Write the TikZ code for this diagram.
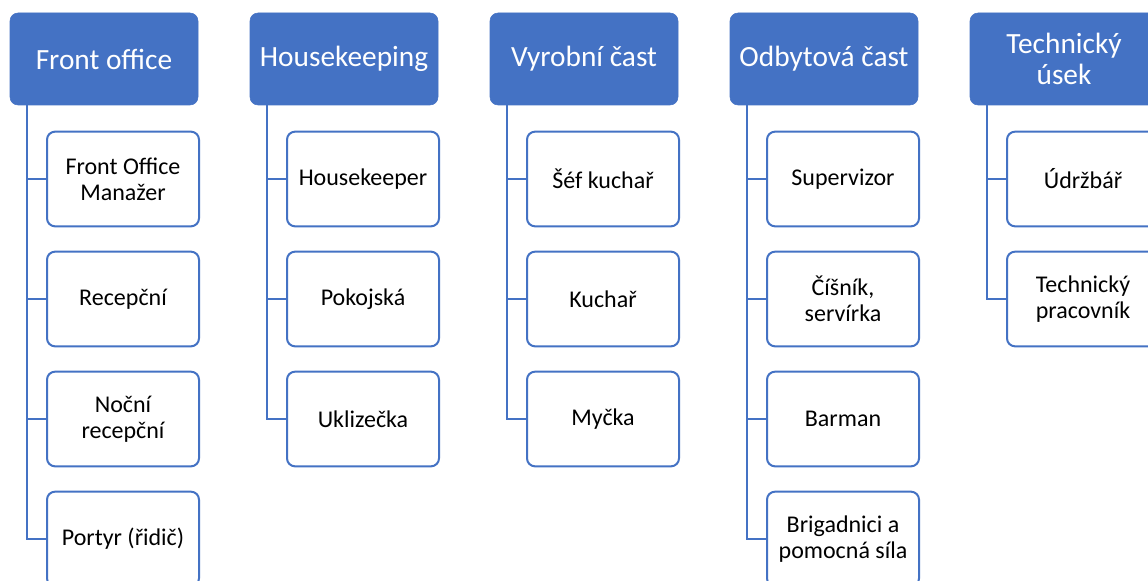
\documentclass[tikz,border=0pt]{standalone}
\usepackage{fontspec}
\setmainfont{Carlito}
\definecolor{deptblue}{HTML}{4472C4}

\begin{document}
\begin{tikzpicture}[x=0.75pt, y=-0.75pt,
    head/.style={fill=deptblue, draw=deptblue, rounded corners=6pt, text=white,
        minimum width=141pt, minimum height=69pt, inner sep=0pt, align=center,
        font=\fontsize{22}{23.5}\selectfont},
    staff/.style={fill=white, draw=deptblue, line width=1.5pt, rounded corners=6pt,
        minimum width=114pt, minimum height=71pt, inner sep=0pt, align=center,
        font=\fontsize{18}{19.5}\selectfont},
    link/.style={draw=deptblue, line width=1.5pt}]
    \clip (0,0) rectangle (1148,581);
    \fill[white] (0,0) rectangle (1148,581);

    % departments
    \node[head] (front_name) at (104,59) {Front office};
    \node[head] (house_name) at (344,59) {Housekeeping};
    \node[head] (kitchen_name) at (584,59) {Vyrobní čast};
    \node[head] (sales_name) at (824,59) {Odbytová čast};
    \node[head] (tech_name) at (1064,59) {Technický\\úsek};

    % staff
    \node[staff] (front_1) at (123,179) {Front Office\\Manažer};
    \node[staff] (front_2) at (123,299) {Recepční};
    \node[staff] (front_3) at (123,419) {Noční\\recepční};
    \node[staff] (front_4) at (123,539) {Portyr (řidič)};

    \node[staff] (house_1) at (363,179) {Housekeeper};
    \node[staff] (house_2) at (363,299) {Pokojská};
    \node[staff] (house_3) at (363,419) {Uklizečka};

    \node[staff] (kitchen_1) at (603,179) {Šéf kuchař};
    \node[staff] (kitchen_2) at (603,299) {Kuchař};
    \node[staff] (kitchen_3) at (603,419) {Myčka};

    \node[staff] (sales_1) at (843,179) {Supervizor};
    \node[staff] (sales_2) at (843,299) {Číšník,\\servírka};
    \node[staff] (sales_3) at (843,419) {Barman};
    \node[staff] (sales_4) at (843,539) {Brigadnici a\\pomocná síla};

    \node[staff] (tech_1) at (1083,179) {Údržbář};
    \node[staff] (tech_2) at (1083,299) {Technický\\pracovník};

    % connectors
    \draw[link] (front_name.south west) ++(17,0) coordinate (front_bus) |- (front_4.west);
    \draw[link] (front_bus |- front_1.west) -- (front_1.west);
    \draw[link] (front_bus |- front_2.west) -- (front_2.west);
    \draw[link] (front_bus |- front_3.west) -- (front_3.west);

    \draw[link] (house_name.south west) ++(17,0) coordinate (house_bus) |- (house_3.west);
    \draw[link] (house_bus |- house_1.west) -- (house_1.west);
    \draw[link] (house_bus |- house_2.west) -- (house_2.west);

    \draw[link] (kitchen_name.south west) ++(17,0) coordinate (kitchen_bus) |- (kitchen_3.west);
    \draw[link] (kitchen_bus |- kitchen_1.west) -- (kitchen_1.west);
    \draw[link] (kitchen_bus |- kitchen_2.west) -- (kitchen_2.west);

    \draw[link] (sales_name.south west) ++(17,0) coordinate (sales_bus) |- (sales_4.west);
    \draw[link] (sales_bus |- sales_1.west) -- (sales_1.west);
    \draw[link] (sales_bus |- sales_2.west) -- (sales_2.west);
    \draw[link] (sales_bus |- sales_3.west) -- (sales_3.west);

    \draw[link] (tech_name.south west) ++(17,0) coordinate (tech_bus) |- (tech_2.west);
    \draw[link] (tech_bus |- tech_1.west) -- (tech_1.west);
\end{tikzpicture}
\end{document}
